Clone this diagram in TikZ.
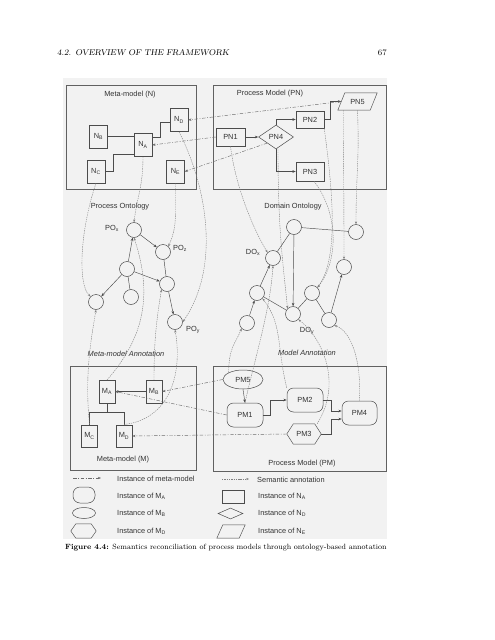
\documentclass[tikz,border=0pt]{standalone}
\usepackage{fontspec}
\newfontfamily\figfont{Liberation Sans}
\usetikzlibrary{arrows.meta,shapes.geometric,calc}
\begin{document}
\begin{tikzpicture}[x=1pt,y=-1pt,
  every node/.style={font={\figfont\fontsize{7.4}{8.5}\selectfont},text=black!80,inner sep=0pt},
  frame/.style={draw=black!62,line width=0.6pt},
  ln/.style={draw=black!70,line width=0.45pt},
  arr/.style={ln,-{Stealth[length=3.4pt,width=2.6pt]}},
  sem/.style={draw=black!50,line width=0.4pt,dash pattern=on 1.4pt off 0.9pt,-{Stealth[length=2.8pt,width=2.2pt]}},
  inst/.style={draw=black!58,line width=0.45pt,dash pattern=on 3.5pt off 1.6pt on 0.9pt off 1.6pt,-{Stealth[length=3.2pt,width=2.4pt]}},
  nbox/.style={rectangle,draw=black!70,line width=0.5pt,minimum width=18pt,minimum height=23pt},
  mbox/.style={rectangle,draw=black!70,line width=0.5pt,minimum width=16pt,minimum height=22.5pt},
  pbox/.style={rectangle,draw=black!70,line width=0.5pt,minimum width=28pt,minimum height=18pt},
  pdia/.style={diamond,draw=black!70,line width=0.5pt,aspect=1.5,minimum width=35pt,minimum height=24pt},
  prnd/.style={rectangle,rounded corners=6.5pt,draw=black!70,line width=0.5pt,minimum width=36pt,minimum height=24pt},
  pell/.style={ellipse,draw=black!70,line width=0.5pt,minimum width=40pt,minimum height=19pt},
  phex/.style={rectangle,minimum width=34pt,minimum height=20pt},
  conc/.style={circle,draw=black!70,line width=0.5pt,minimum size=15pt},
  lab/.style={font={\figfont\fontsize{7.4}{8.5}\selectfont}},
  ilab/.style={font={\figfont\itshape\fontsize{7.4}{8.5}\selectfont}},
]
\useasboundingbox (0,0) rectangle (495,640);
\fill[black!5] (63,78) rectangle (387,539);

% header and caption
\node[anchor=base west,font=\fontsize{8.4}{10}\selectfont\slshape,text=black] (hdr) at (57,55) {4.2.\enspace OVERVIEW OF THE FRAMEWORK};
\node[anchor=base east,font=\fontsize{8.3}{10}\selectfont,text=black] (pg) at (387,55) {67};
\node[anchor=base west,font=\fontsize{7.55}{9}\selectfont,text=black] (cap) at (65,549) {\textbf{Figure 4.4:} Semantics reconciliation of process models through ontology-based annotation};

% frames
\draw[frame] (66,85) rectangle (196,189);
\draw[frame] (213,85) rectangle (386,189);
\draw[frame] (70,366) rectangle (196,470);
\draw[frame] (213,366) rectangle (386,471);
\node[lab] (tN) at (130,95) {Meta-model (N)};
\node[lab] (tPN) at (270,94) {Process Model (PN)};
\node[lab] (tM) at (123,460) {Meta-model (M)};
\node[lab] (tPM) at (302,464) {Process Model (PM)};
\node[lab] (tPO) at (120,207) {Process Ontology};
\node[lab] (tDO) at (293,207) {Domain Ontology};
\node[ilab] (tMA) at (126,354) {Meta-model Annotation};
\node[ilab] (tDA) at (307,353) {Model Annotation};

% meta-model N
\node[nbox] (NB) at (98.5,136.5) {N\textsubscript{B}};
\node[nbox] (NA) at (143,145) {N\textsubscript{A}};
\node[nbox] (ND) at (179,120) {N\textsubscript{D}};
\node[nbox] (NC) at (96,171.5) {N\textsubscript{C}};
\node[nbox] (NE) at (175.5,171.5) {N\textsubscript{E}};
\draw[ln] (NB.east) -- (NB.east -| NA.west);
\draw[ln] (NC.east) -- ++(8,0) |- ([yshift=-9pt]NA.west);
\draw[ln] ([yshift=8pt]NA.east) -- ++(8,0) |- ([yshift=-2pt]ND.west);

% process model PN
\node[pbox,minimum width=29pt] (PN1) at (230.5,137) {PN1};
\node[pdia] (PN4) at (276,137) {PN4};
\node[pbox,minimum height=17pt] (PN2) at (310,119.5) {PN2};
\node[pbox,minimum height=19pt] (PN3) at (310,171.5) {PN3};
\node[rectangle,minimum width=39pt,minimum height=17pt] (PN5) at (357.5,101.5) {PN5};
\draw[ln] (PN5.south west) -- ([xshift=7pt]PN5.north west) -- (PN5.north east) -- ([xshift=-7pt]PN5.south east) -- cycle;
\draw[arr] (PN1.east) -- (PN4.west);
\draw[arr] (PN4.north) |- (PN2.west);
\draw[arr] (PN4.south) |- (PN3.west);
\draw[arr] (PN2.east) -- ++(6,0) |- ([xshift=3.5pt]PN5.west);

% process ontology
\node[conc] (POx) at (134,230) {};
\node[conc] (POz) at (163,252) {};
\node[conc] (POm) at (127,269) {};
\node[conc] (POr) at (167,284) {};
\node[conc] (POl) at (96,302) {};
\node[conc] (POb) at (131,297) {};
\node[conc] (POy) at (175,322) {};
\node[lab] (lPOx) at (112,228) {PO\textsubscript{x}};
\node[lab] (lPOz) at (180,248) {PO\textsubscript{z}};
\node[lab] (lPOy) at (193,330) {PO\textsubscript{y}};
\draw[arr] (POx) -- (POz);
\draw[arr] (POm) -- (POx);
\draw[arr] (POm) -- (POl);
\draw[ln] (POm) -- (POb);
\draw[arr] (POm) -- (POr);
\draw[ln] (POz) -- (POr);
\draw[arr] (POr) -- (POy);

% domain ontology
\node[conc] (DA) at (294,227) {};
\node[conc] (DB) at (356,232) {};
\node[conc] (DOx) at (273,258) {};
\node[conc] (DC) at (344,267) {};
\node[conc] (DD) at (257,293) {};
\node[conc] (DE) at (312,293) {};
\node[conc] (DF) at (293,314) {};
\node[conc] (DG) at (329,320) {};
\node[conc] (DH) at (247,323) {};
\node[lab] (lDOx) at (253,252) {DO\textsubscript{x}};
\node[lab] (lDOy) at (307,331) {DO\textsubscript{y}};
\draw[ln] (DA) -- (DB);
\draw[ln] (DA) -- (DOx);
\draw[arr] (DD) -- (DOx);
\draw[arr] (DA) -- (DF);
\draw[ln] (DD) -- (DF);
\draw[ln] (DE) -- (DF);
\draw[ln] (DE) -- (DG);
\draw[arr] (DG) -- (DC);
\draw[arr] (DH) -- (DD);

% meta-model M
\node[mbox] (MA) at (107,391.5) {M\textsubscript{A}};
\node[mbox] (MB) at (154,391.5) {M\textsubscript{B}};
\node[mbox] (MC) at (89.5,436) {M\textsubscript{C}};
\node[mbox] (MD) at (124,436) {M\textsubscript{D}};
\draw[arr] (MB.west) -- (MA.east);
\draw[ln] (MA.south) -- ++(0,10);
\draw[ln] (MC.north) -- ++(0,-12) -| (MD.north);

% process model PM
\node[pell] (PM5) at (243,379.5) {PM5};
\node[prnd] (PM1) at (245,415) {PM1};
\node[prnd] (PM2) at (305,400) {PM2};
\node[prnd,minimum width=35pt] (PM4) at (359.5,413) {PM4};
\node[phex] (PM3) at (304,434) {PM3};
\draw[ln] (PM3.west) -- ([xshift=6.5pt]PM3.north west) -- ([xshift=-6.5pt]PM3.north east) -- (PM3.east) -- ([xshift=-6.5pt]PM3.south east) -- ([xshift=6.5pt]PM3.south west) -- cycle;
\draw[arr] (PM5.south) -- (PM1.north);
\draw[arr] (PM1.east) -- ++(7,0) |- (PM2.west);
\draw[arr] (PM2.east) -- ++(8,0) |- ([yshift=2pt]PM4.west);
\draw[arr] (PM3.east) -- ++(10,0) |- ([yshift=-6pt]PM4.west);

% instance-of-meta-model links
\draw[inst] ([xshift=3.5pt]PN5.west) -- (ND.east);
\draw[inst] (PN1.west) -- (NA.east);
\draw[inst] (PN4.south west) -- (NE.east);
\draw[inst] (PM5.west) -- (MB.east);
\draw[inst] (PM1.west) -- (MA.east);
\draw[inst] (PM3.west) -- (MD.east);

% semantic annotations: meta-models -> process ontology
\draw[sem] (NC.south) .. controls +(-16,47) and +(-13,-12) .. (POl.north west);
\draw[sem] (NA.south) .. controls +(0,30) and +(3,-25) .. (POx.north);
\draw[sem] (NE.south) .. controls +(0,40) and +(8,-20) .. (POz.north east);
\draw[sem] (ND.south) .. controls +(28,55) and +(38,-55) .. (POy.east);
\draw[sem] (MC.north) .. controls +(-5,-50) and +(-5,30) .. (POl.south);
\draw[sem] (MA.north) .. controls +(35,-40) and +(20,60) .. (POx.south);
\draw[sem] (MB.north) .. controls +(0,-40) and +(-5,30) .. (POr.south west);
\draw[sem] (MD.north) .. controls +(45,-5) and +(8,45) .. (POy.south);

% semantic annotations: models -> domain ontology
\draw[sem] (PN1.south) .. controls +(5,40) and +(-15,-25) .. (DOx.north west);
\draw[sem] ([xshift=2pt]PN4.south) .. controls +(0,80) and +(-5,-50) .. (DF.north west);
\draw[sem] ([xshift=4pt]PN3.south) .. controls +(26,34) and +(20,-25) .. (DE.north east);
\draw[sem] (PN2.south east) .. controls +(8,60) and +(22,-30) .. (DE.north east);
\draw[sem] (PN5.south) .. controls +(2,50) and +(0,-50) .. (DB.north);
\draw[sem] ([xshift=-14pt]PN5.south) .. controls +(0,60) and +(0,-60) .. (DC.north);
\draw[sem] (PM1.north) .. controls +(10,-45) and +(-3,45) .. (DOx.south);
\draw[sem] (PM5.north west) .. controls +(0,-25) and +(-6,15) .. (DH.south west);
\draw[sem] (PM2.north west) .. controls +(-10,-40) and +(20,25) .. (DD.south east);
\draw[sem] ([xshift=-4pt]PM3.north east) .. controls +(25,-40) and +(25,20) .. (DF.south east);
\draw[sem] (PM4.north) .. controls +(2,-45) and +(15,5) .. (DG.south east);

% legend
\coordinate (L1a) at (73,478);
\coordinate (L1b) at (101,478);
\draw[inst] (L1a) -- (L1b);
\node[lab,anchor=west] (lt1) at (117,478.5) {Instance of meta-model};
\coordinate (L2a) at (222,479);
\coordinate (L2b) at (249,479);
\draw[sem] (L2a) -- (L2b);
\node[lab,anchor=west] (lt2) at (257,479.5) {Semantic annotation};
\node[prnd,minimum width=22pt,minimum height=16pt,rounded corners=7pt] (lgA) at (84,495) {};
\node[lab,anchor=west] (lt3) at (117,496) {Instance of M\textsubscript{A}};
\node[pbox,minimum width=22pt,minimum height=13pt] (lgN) at (233,496.5) {};
\node[lab,anchor=west] (lt4) at (258,496.5) {Instance of N\textsubscript{A}};
\node[pell,minimum width=23pt,minimum height=11pt] (lgB) at (84,513) {};
\node[lab,anchor=west] (lt5) at (117,513.5) {Instance of M\textsubscript{B}};
\node[diamond,draw=black!70,line width=0.5pt,aspect=2.2,minimum width=25pt,minimum height=11pt] (lgD) at (230.5,513.5) {};
\node[lab,anchor=west] (lt6) at (258,513.5) {Instance of N\textsubscript{D}};
\node[phex,minimum width=25pt,minimum height=14pt] (lgH) at (83.5,531) {};
\draw[ln] (lgH.west) -- ([xshift=5pt]lgH.north west) -- ([xshift=-5pt]lgH.north east) -- (lgH.east) -- ([xshift=-5pt]lgH.south east) -- ([xshift=5pt]lgH.south west) -- cycle;
\node[lab,anchor=west] (lt7) at (117,531) {Instance of M\textsubscript{D}};
\node[rectangle,minimum width=28pt,minimum height=13pt] (lgP) at (231,531.5) {};
\draw[ln] (lgP.south west) -- ([xshift=6pt]lgP.north west) -- (lgP.north east) -- ([xshift=-6pt]lgP.south east) -- cycle;
\node[lab,anchor=west] (lt8) at (258,531.5) {Instance of N\textsubscript{E}};
\end{tikzpicture}
\end{document}
